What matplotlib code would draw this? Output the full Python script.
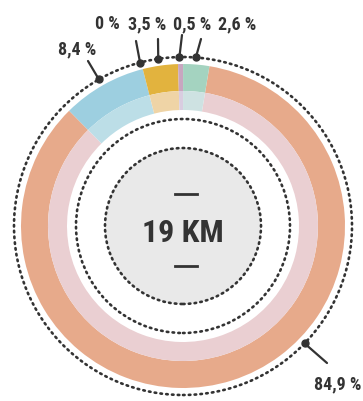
import matplotlib

matplotlib.use("Agg")

import matplotlib.pyplot as plt
import numpy as np
from matplotlib import font_manager
from matplotlib.patches import Circle

# data: share of distance per mode (clockwise from top-right)
labels = ["84,9 %", "8,4 %", "0 %", "3,5 %", "0,5 %", "2,6 %"]
values = [84.9, 8.4, 0.0, 3.5, 0.5, 2.6]
outer_colors = ["#e7aa8b", "#9dcfe0", "#cccccc", "#e2b33e", "#c8a6c0", "#a4d3c0"]
inner_colors = ["#eacfd2", "#bcdee7", "#dddddd", "#efd4a6", "#d9cde0", "#cee2e2"]
total_label = "19 KM"

W, H = 363, 402
CX, CY = 183, H - 227  # donut centre in pixel coords (y up)
R_DOT = 169
R_OUT, R_MID, R_IN = 162, 135, 116
R_DOT2, R_CORE = 107, 78
START = 80.6  # first wedge starts just right of 12 o'clock

TXT = "#333333"

# narrowest bold sans that is installed
names = {f.name for f in font_manager.fontManager.ttflist}
FAM = next(n for n in ["Roboto Condensed", "Liberation Sans Narrow", "Roboto", "DejaVu Sans"]
           if n in names)
plt.rcParams["font.family"] = [FAM, "DejaVu Sans"]

fig = plt.figure(figsize=(W / 100, H / 100), dpi=100)
ax = fig.add_axes([0, 0, 1, 1])

ax.pie(values, radius=R_OUT, center=(CX, CY), startangle=START, counterclock=False,
       colors=outer_colors, wedgeprops=dict(width=R_OUT - R_MID, linewidth=0))
ax.pie(values, radius=R_MID, center=(CX, CY), startangle=START, counterclock=False,
       colors=inner_colors, wedgeprops=dict(width=R_MID - R_IN, linewidth=0))

ax.add_patch(Circle((CX, CY), R_CORE, facecolor="#e9e9e9", edgecolor="none"))
for r in (R_DOT, R_DOT2, R_CORE):
    ax.add_patch(Circle((CX, CY), r, fill=False, edgecolor=TXT, linewidth=1.9,
                        linestyle=(0, (0.6, 1.6)), capstyle="round"))

# pointer angles: wedge midpoints, the big slice is pointed at lower right
cum = np.cumsum([0] + values[:-1])
mid = START - 3.6 * (cum + np.array(values) / 2)
mid[0] = 90 - 134  # label for the large wedge sits ~134 deg clockwise from top
mid[2] = START - 3.6 * cum[2]

# label text centres and leader line ends (pixel coords, y down)
text_pos = [(338, 384), (77, 49), (107, 24), (147, 24), (192, 24), (237, 24)]
line_end = [(327, 364), (88, 62), (136, 42), (158, 40), (182, 36), (201, 40)]

for lab, ang, (tx, ty), (lx, ly) in zip(labels, mid, text_pos, line_end):
    a = np.deg2rad(ang)
    px, py = CX + R_DOT * np.cos(a), CY + R_DOT * np.sin(a)
    ax.plot([px, lx], [py, H - ly], color=TXT, lw=1.6, solid_capstyle="round")
    ax.plot(px, py, "o", color=TXT, ms=5)
    ax.text(tx, H - ty, lab, ha="center", va="center", fontsize=13,
            fontweight="bold", color=TXT)

ax.text(CX, H - 233, total_label, ha="center", va="center", fontsize=23,
        fontweight="bold", color=TXT)
for yy in (195, 267):
    ax.plot([175, 197], [H - yy, H - yy], color=TXT, lw=2)

ax.set_xlim(0, W)
ax.set_ylim(0, H)
ax.set_aspect("equal")
ax.axis("off")

fig.savefig("out.png", dpi=100, facecolor="white")
